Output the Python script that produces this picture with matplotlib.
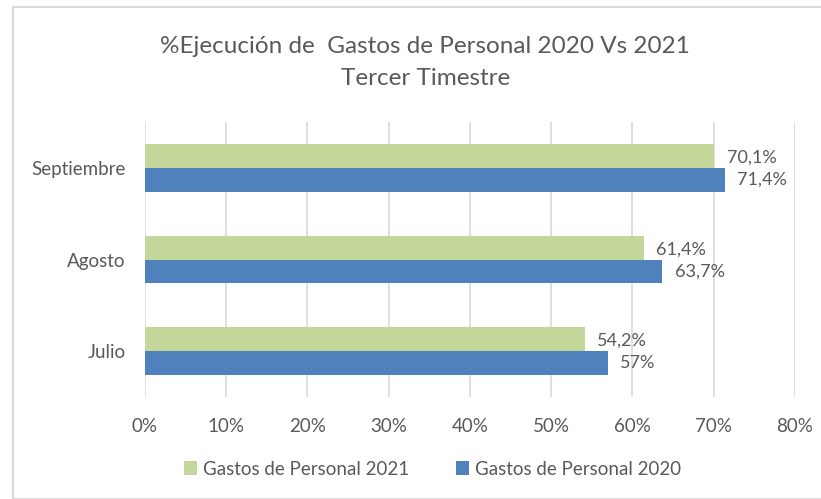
import matplotlib.pyplot as plt
import numpy as np
from matplotlib.patches import Rectangle

plt.rcParams['font.family'] = ['Lato', 'DejaVu Sans']

meses = ['Julio', 'Agosto', 'Septiembre']
gastos_2021 = [54.2, 61.4, 70.1]
gastos_2020 = [57.0, 63.7, 71.4]
etiquetas_2021 = ['54,2%', '61,4%', '70,1%']
etiquetas_2020 = ['57%', '63,7%', '71,4%']
ticks = [0, 10, 20, 30, 40, 50, 60, 70, 80]

verde = '#C4D79B'
azul = '#4F81BD'
gris = '#595959'

fig = plt.figure(figsize=(8.21, 4.99), dpi=100)
ax = fig.add_axes([0.1766, 0.2044, 0.7914, 0.551])
fig.patches.append(Rectangle((0.016, 0.0), 0.99, 0.986, transform=fig.transFigure,
                             fill=False, edgecolor='#D9D9D9', linewidth=1.5))

y = np.arange(len(meses))
h = 0.26
ax.barh(y + h / 2, gastos_2021, height=h, color=verde, label='Gastos de Personal 2021', zorder=3)
ax.barh(y - h / 2, gastos_2020, height=h, color=azul, label='Gastos de Personal 2020', zorder=3)

for i in range(len(meses)):
    ax.text(gastos_2021[i] + 1.5, y[i] + h / 2 - 0.02, etiquetas_2021[i], va='center', ha='left',
            fontsize=13, color=gris)
    ax.text(gastos_2020[i] + 1.5, y[i] - h / 2, etiquetas_2020[i], va='center', ha='left',
            fontsize=13, color=gris)

ax.set_xlim(0, 80)
ax.set_ylim(-0.5, 2.5)
ax.set_xticks(ticks)
ax.set_xticklabels([f'{t}%' for t in ticks], fontsize=13.5, color=gris)
ax.set_yticks(y)
ax.set_yticklabels(meses, fontsize=13.5, color=gris)
ax.tick_params(axis='x', length=0, pad=15)
ax.tick_params(axis='y', length=0, pad=14)
ax.grid(axis='x', color='#D9D9D9', linewidth=1.2, zorder=0)
for s in ax.spines.values():
    s.set_visible(False)

fig.text(0.518, 0.906, '%Ejecución de  Gastos de Personal 2020 Vs 2021', ha='center', va='center',
         fontsize=17.5, color=gris)
fig.text(0.518, 0.842, 'Tercer Timestre', ha='center', va='center', fontsize=17.5, color=gris)

fig.legend(loc='center', bbox_to_anchor=(0.527, 0.06), ncol=2, frameon=False, fontsize=13.5,
           labelcolor=gris, handlelength=0.7, handleheight=0.7, handletextpad=0.3, columnspacing=2.5)

plt.savefig('out.png', dpi=100)
